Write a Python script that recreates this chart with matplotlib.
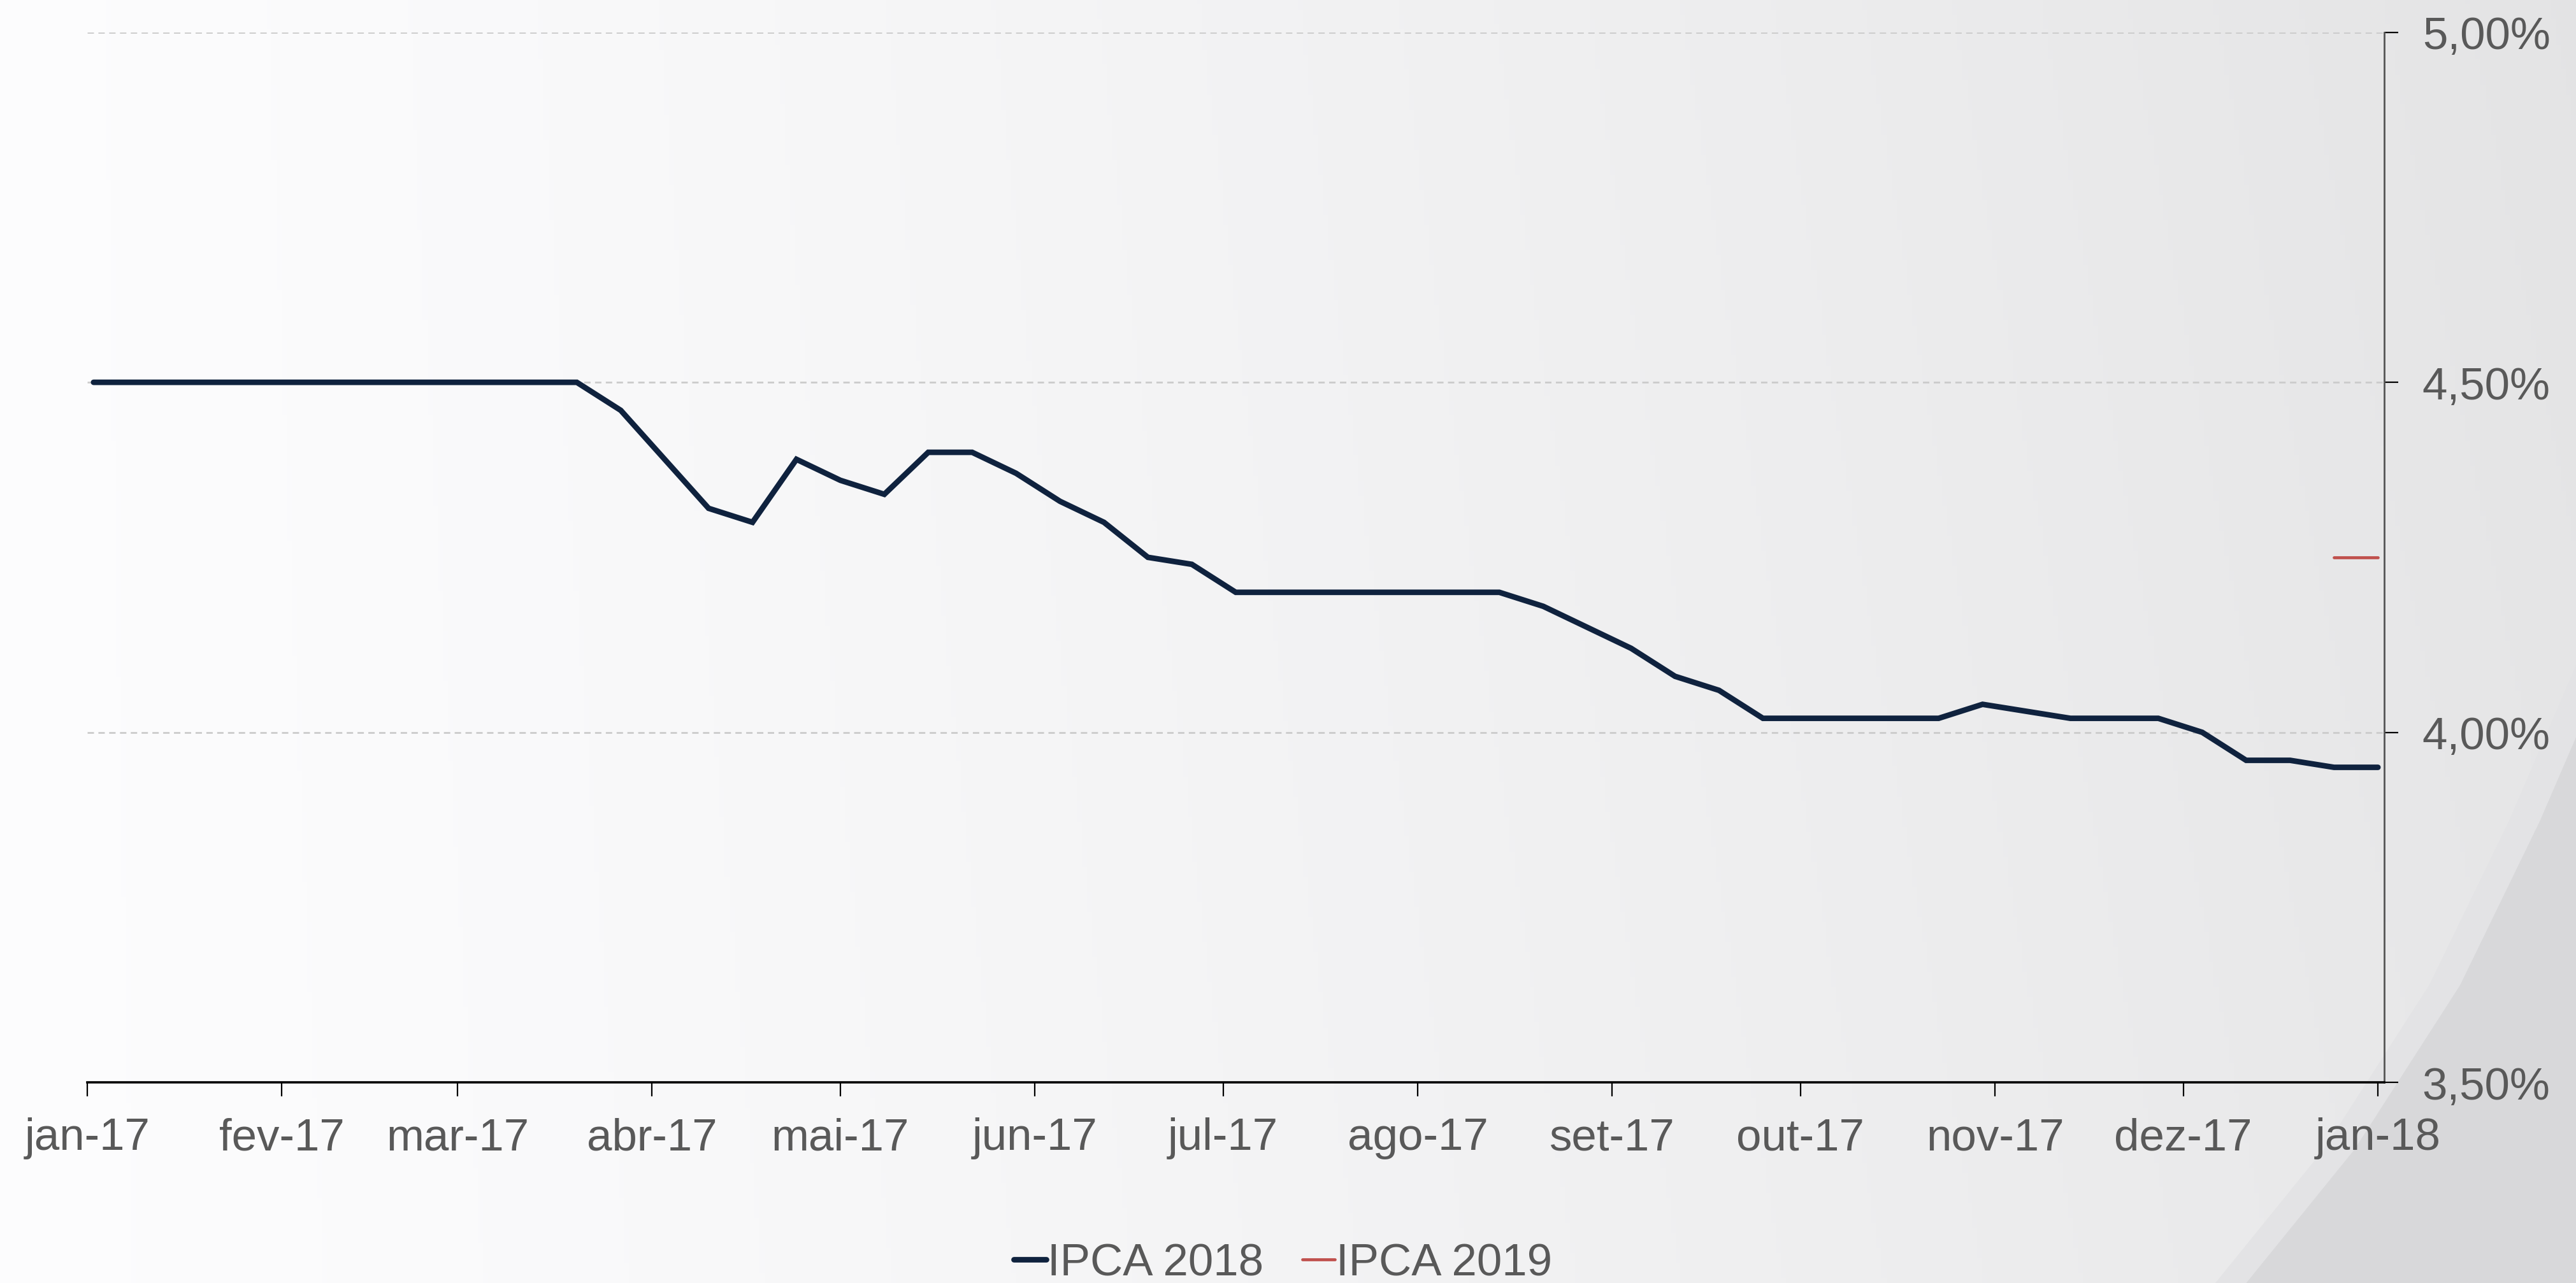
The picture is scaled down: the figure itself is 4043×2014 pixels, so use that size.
import numpy as np
import pandas as pd
import matplotlib
matplotlib.use("Agg")
import matplotlib.pyplot as plt
import matplotlib.dates as mdates
from matplotlib.patches import Polygon
from matplotlib.ticker import FixedLocator

plt.rcParams['font.family'] = ['Liberation Sans', 'DejaVu Sans']

# weekly Focus survey dates (Mondays)
dates = pd.date_range('2017-01-02', periods=53, freq='7D')

ipca_2018 = [4.50, 4.50, 4.50, 4.50, 4.50, 4.50, 4.50, 4.50, 4.50, 4.50, 4.50, 4.50,
             4.46, 4.39, 4.32, 4.30, 4.39, 4.36, 4.34, 4.40, 4.40, 4.37, 4.33, 4.30,
             4.25, 4.24, 4.20, 4.20, 4.20, 4.20, 4.20, 4.20, 4.20, 4.18, 4.15, 4.12,
             4.08, 4.06, 4.02, 4.02, 4.02, 4.02, 4.02, 4.04, 4.03, 4.02, 4.02, 4.02,
             4.00, 3.96, 3.96, 3.95, 3.95]
ipca_2019 = [np.nan] * 51 + [4.25, 4.25]

month_ticks = pd.date_range('2017-01-01', '2018-01-01', freq='MS')
month_labels = ['jan-17', 'fev-17', 'mar-17', 'abr-17', 'mai-17', 'jun-17', 'jul-17',
                'ago-17', 'set-17', 'out-17', 'nov-17', 'dez-17', 'jan-18']
y_ticks = [3.50, 4.00, 4.50, 5.00]
y_labels = ['3,50%', '4,00%', '4,50%', '5,00%']

navy = '#0f223e'
red = '#c0504d'
text_grey = '#595959'

fig = plt.figure(figsize=(40.43, 20.15), dpi=100)

# background: soft horizontal gradient plus a grey swoosh bottom right
bg = fig.add_axes([0, 0, 1, 1], zorder=-10)
bg.set_axis_off()
grad = np.linspace(0, 1, 512)
xx, yy = np.meshgrid(grad, np.linspace(0, 1, 256))
shade = 0.99 - 0.085 * xx ** 1.3 - 0.012 * yy * xx
bg.imshow(np.dstack([shade, shade, shade + 0.004]).clip(0, 1), extent=[0, 1, 0, 1],
          aspect='auto', origin='lower')
edge = [(0.860, 0.0), (0.902, 0.104), (0.943, 0.232), (0.974, 0.360), (1.0, 0.481)]
band = [(x + 0.012, y) for x, y in edge]
bg.add_patch(Polygon(edge + [(1.0, 0.0)], closed=True, fc='#e3e3e5', ec='none'))
bg.add_patch(Polygon(band + [(1.0, 0.0)], closed=True, fc='#d8d8da', ec='none'))
bg.set_xlim(0, 1)
bg.set_ylim(0, 1)

ax = fig.add_axes([137 / 4043, 1 - 1700 / 2015, (3742 - 137) / 4043, (1700 - 51.7) / 2015])
ax.patch.set_alpha(0)

ax.plot(dates, ipca_2018, color=navy, lw=6.3, solid_capstyle='round',
        solid_joinstyle='miter', label='IPCA 2018', zorder=3)
ax.plot(dates, ipca_2019, color=red, lw=3.4, solid_capstyle='round',
        label='IPCA 2019', zorder=3)

ax.set_xlim(pd.Timestamp('2017-01-01'), pd.Timestamp('2018-01-02'))
ax.set_ylim(3.5, 5.0)

ax.xaxis.set_major_locator(FixedLocator(mdates.date2num(month_ticks)))
ax.set_xticklabels(month_labels)
ax.set_yticks(y_ticks)
ax.set_yticklabels(y_labels)

ax.yaxis.tick_right()
for s in ['left', 'top']:
    ax.spines[s].set_visible(False)
ax.spines['right'].set_color('#555555')
ax.spines['right'].set_linewidth(2)
ax.spines['bottom'].set_color('black')
ax.spines['bottom'].set_linewidth(2.6)

ax.tick_params(axis='x', length=16, width=1.6, color='black', pad=23,
               labelsize=51, labelcolor=text_grey)
ax.tick_params(axis='y', length=16, width=1.6, color='black', pad=27,
               labelsize=51, labelcolor=text_grey)

for v in [4.0, 4.5, 5.0]:
    ax.axhline(v, color='#cbcbcb', lw=2, ls=(0, (3.6, 2.5)), zorder=1)

leg = fig.legend(loc='center', bbox_to_anchor=(0.498, 1 - 1985 / 2015), ncol=2,
                 frameon=False, fontsize=51, handlelength=0.72, handletextpad=0.03,
                 columnspacing=0.85, borderaxespad=0)
for t in leg.get_texts():
    t.set_color(text_grey)

fig.savefig('out.png', dpi=100)
